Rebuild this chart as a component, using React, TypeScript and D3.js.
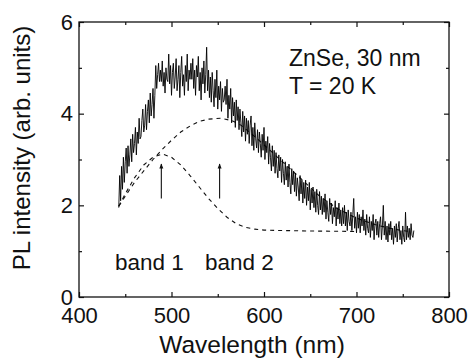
import { useEffect, useRef } from "react";
import * as d3 from "d3";

// PL spectrum, 1 nm steps starting at 443 nm
const START_NM = 443;
const STEP_NM = 1;
const spectrum = [
	1.95, 2.65, 2.1, 2.85, 2.35, 3.05, 2.5, 2.95, 3.25, 2.7,
	3.3, 2.85, 3.1, 3.45, 2.95, 3.55, 3.15, 3.35, 3.7, 3.1,
	3.6, 3.35, 3.9, 3.45, 3.5, 3.85, 4.1, 3.6, 3.75, 4.2,
	3.65, 4.05, 4.3, 3.8, 4.45, 3.95, 4.2, 4.55, 3.9, 4.4,
	5.05, 4.55, 4.85, 5.1, 4.7, 4.95, 4.7, 5.15, 4.6, 4.9,
	4.45, 5.0, 4.75, 4.7, 5.3, 4.65, 5.05, 4.4, 4.9, 5.1,
	4.55, 4.8, 5.2, 4.5, 4.75, 5.05, 4.35, 4.9, 5.25, 4.6,
	4.85, 4.4, 5.05, 4.7, 5.3, 4.5, 4.95, 4.75, 5.1, 4.75,
	5.2, 4.55, 4.95, 4.4, 5.05, 4.8, 5.25, 4.5, 4.9, 4.3,
	5.0, 4.65, 5.15, 4.45, 4.85, 5.45, 4.5, 4.95, 4.35, 4.8,
	4.25, 4.9, 4.5, 4.15, 4.75, 4.35, 4.95, 4.1, 4.6, 4.3,
	4.7, 4.05, 4.55, 4.25, 4.3, 4.6, 4.2, 4.75, 3.9, 4.4,
	4.1, 4.55, 3.8, 4.35, 3.95, 4.25, 3.7, 4.3, 3.85, 4.15,
	3.65, 4.1, 3.8, 3.5, 4.05, 3.6, 3.95, 3.4, 3.9, 3.55,
	3.85, 3.35, 3.75, 3.95, 3.3, 3.7, 3.2, 3.8, 3.45, 3.25,
	3.65, 3.15, 3.6, 3.35, 3.05, 3.55, 3.2, 3.7, 3.0, 3.4,
	3.15, 3.5, 2.9, 3.35, 3.05, 2.75, 3.3, 2.85, 3.2, 2.7,
	3.15, 2.8, 2.6, 3.1, 2.75, 3.05, 2.5, 3.0, 2.7, 2.45,
	2.95, 2.55, 2.85, 2.4, 2.9, 2.5, 2.25, 2.8, 2.45, 2.75,
	2.3, 2.7, 2.2, 2.6, 2.4, 2.1, 2.65, 2.25, 2.55, 2.05,
	2.5, 2.15, 2.55, 2.0, 2.4, 2.1, 2.5, 1.9, 2.35, 2.05,
	2.4, 1.95, 2.3, 1.85, 2.35, 2.0, 1.8, 2.3, 1.9, 2.2,
	1.8, 2.15, 1.85, 2.25, 1.7, 2.1, 1.85, 1.65, 2.15, 1.8,
	2.05, 1.6, 1.95, 1.75, 2.1, 1.55, 1.95, 1.7, 2.05, 1.6,
	1.9, 1.55, 1.95, 1.6, 2.0, 1.55, 1.85, 1.45, 1.9, 1.65,
	1.55, 1.85, 1.45, 1.8, 2.15, 1.5, 1.75, 1.4, 1.85, 1.5,
	1.8, 1.4, 1.75, 1.55, 1.9, 1.45, 1.7, 1.35, 1.8, 1.5,
	1.4, 1.75, 1.3, 1.65, 1.45, 1.8, 1.25, 1.6, 1.7, 1.35,
	1.65, 1.3, 1.6, 1.75, 1.25, 1.55, 2.0, 1.35, 1.65, 1.25,
	1.55, 1.2, 1.6, 1.35, 1.65, 1.25, 1.5, 1.15, 1.55, 1.3,
	1.6, 1.2, 1.5, 1.65, 1.25, 1.45, 1.15, 1.55, 1.3, 1.2,
	1.85, 1.25, 1.55, 1.3, 1.5, 1.25, 1.6, 1.35, 1.3, 1.45
];

// Gaussian fit components (dashed), [nm, intensity]
const band1: [number, number][] = [
	[443, 1.98], [450, 2.25], [460, 2.6], [470, 2.88], [480, 3.05], [490, 3.12],
	[500, 3.05], [510, 2.88], [520, 2.65], [530, 2.4], [540, 2.15], [550, 1.93],
	[560, 1.74], [570, 1.6], [580, 1.52], [590, 1.48], [600, 1.46], [620, 1.45],
	[650, 1.44], [700, 1.43]
];
const band2: [number, number][] = [
	[443, 1.98], [450, 2.2], [460, 2.5], [470, 2.75], [480, 3.0], [490, 3.22],
	[500, 3.42], [510, 3.6], [520, 3.73], [530, 3.83], [540, 3.88], [553, 3.9],
	[565, 3.85], [575, 3.75], [590, 3.5], [600, 3.32], [620, 2.95], [640, 2.58],
	[660, 2.2], [680, 1.92], [700, 1.72], [720, 1.58], [740, 1.48], [760, 1.42]
];

// peak markers
const arrowNm = [489, 552];
const arrowFrom = 2.15;
const arrowTo = 2.9;

const xTicks = [400, 500, 600, 700, 800];
const xMinor = [450, 550, 650, 750];
const yTicks = [0, 2, 4, 6];
const yMinor = [1, 3, 5];

const FONT = "'Liberation Sans', Arial, Helvetica, sans-serif";

export default function App() {
	const ref = useRef<SVGSVGElement>(null);

	useEffect(() => {
		const svg = d3.select(ref.current);
		svg.selectAll("*").remove();

		const left = 79, right = 449, top = 22, bottom = 297;

		const x = d3.scaleLinear().domain([400, 800]).range([left, right]);
		const y = d3.scaleLinear().domain([0, 6]).range([bottom, top]);

		svg.append("defs")
			.append("marker")
			.attr("id", "head")
			.attr("viewBox", "0 0 10 10")
			.attr("refX", 9)
			.attr("refY", 5)
			.attr("markerWidth", 7)
			.attr("markerHeight", 5)
			.attr("markerUnits", "userSpaceOnUse")
			.attr("orient", "auto")
			.append("path")
			.attr("d", "M0,1 L10,5 L0,9 Z")
			.attr("fill", "#111");

		// axes: inward ticks on all four sides
		const styleAxis = (g: d3.Selection<SVGGElement, unknown, null, undefined>) => {
			g.select(".domain").remove();
			g.selectAll("line").attr("stroke", "#111").attr("stroke-width", 1.2);
			g.selectAll("text")
				.attr("font-family", FONT)
				.attr("font-size", 22)
				.attr("fill", "#111");
		};

		svg.append("g")
			.attr("transform", `translate(0,${bottom})`)
			.call(d3.axisBottom(x).tickValues(xTicks).tickFormat(d3.format("d")).tickSizeInner(-5).tickSizeOuter(0).tickPadding(10))
			.call(styleAxis);
		svg.append("g")
			.attr("transform", `translate(0,${bottom})`)
			.call(d3.axisBottom(x).tickValues(xMinor).tickFormat(() => "").tickSizeInner(-3).tickSizeOuter(0))
			.call(styleAxis);
		svg.append("g")
			.attr("transform", `translate(0,${top})`)
			.call(d3.axisTop(x).tickValues(xTicks).tickFormat(() => "").tickSizeInner(-5).tickSizeOuter(0))
			.call(styleAxis);
		svg.append("g")
			.attr("transform", `translate(0,${top})`)
			.call(d3.axisTop(x).tickValues(xMinor).tickFormat(() => "").tickSizeInner(-3).tickSizeOuter(0))
			.call(styleAxis);

		svg.append("g")
			.attr("transform", `translate(${left},0)`)
			.call(d3.axisLeft(y).tickValues(yTicks).tickFormat(d3.format("d")).tickSizeInner(-5).tickSizeOuter(0).tickPadding(6))
			.call(styleAxis);
		svg.append("g")
			.attr("transform", `translate(${left},0)`)
			.call(d3.axisLeft(y).tickValues(yMinor).tickFormat(() => "").tickSizeInner(-3).tickSizeOuter(0))
			.call(styleAxis);
		svg.append("g")
			.attr("transform", `translate(${right},0)`)
			.call(d3.axisRight(y).tickValues(yTicks).tickFormat(() => "").tickSizeInner(-5).tickSizeOuter(0))
			.call(styleAxis);
		svg.append("g")
			.attr("transform", `translate(${right},0)`)
			.call(d3.axisRight(y).tickValues(yMinor).tickFormat(() => "").tickSizeInner(-3).tickSizeOuter(0))
			.call(styleAxis);

		// frame
		svg.append("rect")
			.attr("x", left)
			.attr("y", top)
			.attr("width", right - left)
			.attr("height", bottom - top)
			.attr("fill", "none")
			.attr("stroke", "#111")
			.attr("stroke-width", 1.3);

		const line = d3.line<[number, number]>()
			.x(d => x(d[0]))
			.y(d => y(d[1]));

		// dashed bands
		[band1, band2].forEach(b => {
			svg.append("path")
				.attr("d", line(b))
				.attr("fill", "none")
				.attr("stroke", "#111")
				.attr("stroke-width", 1.1)
				.attr("stroke-dasharray", "4,4");
		});

		// spectrum
		const pts: [number, number][] = spectrum.map((v, i) => [START_NM + i * STEP_NM, v]);
		svg.append("path")
			.attr("d", line(pts))
			.attr("fill", "none")
			.attr("stroke", "#000")
			.attr("stroke-width", 0.9)
			.attr("stroke-linejoin", "bevel");

		// arrows
		arrowNm.forEach(nm => {
			svg.append("line")
				.attr("x1", x(nm))
				.attr("x2", x(nm))
				.attr("y1", y(arrowFrom))
				.attr("y2", y(arrowTo))
				.attr("stroke", "#111")
				.attr("stroke-width", 1.1)
				.attr("marker-end", "url(#head)");
		});

		// labels
		const txt = (tx: number, ty: number, s: string, size: number, anchor = "start") =>
			svg.append("text")
				.attr("x", tx)
				.attr("y", ty)
				.attr("text-anchor", anchor)
				.attr("font-family", FONT)
				.attr("font-size", size)
				.attr("fill", "#111")
				.text(s);

		txt(289, 66, "ZnSe, 30 nm", 23);
		txt(289, 94, "T = 20 K", 23);
		txt(115, 270, "band 1", 22.5);
		txt(205, 270, "band 2", 22.5);
		txt(252, 353, "Wavelength (nm)", 24.5, "middle");
		txt(0, 0, "PL intensity (arb. units)", 24, "middle")
			.attr("transform", `translate(30,148) rotate(-90)`);
	}, []);

	return (
		<svg
			ref={ref}
			width={469}
			height={358}
			style={{ position: "absolute", left: 0, top: 0, background: "#fff" }}
		/>
	);
}
